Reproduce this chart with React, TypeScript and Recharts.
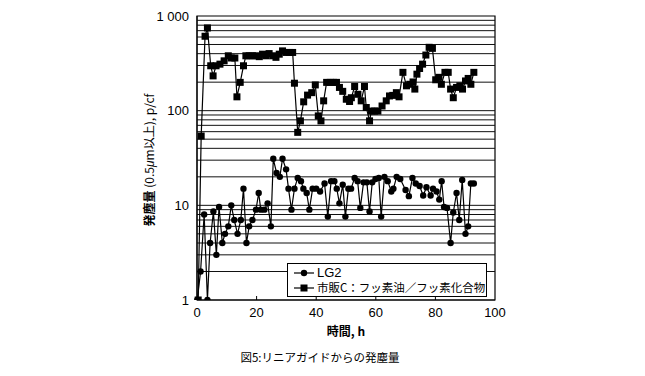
import React from 'react';
import { LineChart, Line, XAxis, YAxis, ReferenceLine, ReferenceArea } from 'recharts';

// LG2 (circles)
const lgHours = [0.1, 1.2, 2.4, 3.5, 4.4, 5.5, 6.5, 7.4, 8.5, 9.4, 10.5, 11.5, 12.5, 13.6, 14.7, 15.6, 16.6, 17.5, 18.6, 19.8, 20.7, 21.4, 22.6, 23.7, 24.8, 25.6, 26.7, 27.8, 28.7, 29.9, 30.7, 31.7, 32.7, 33.8, 34.9, 35.7, 36.8, 37.7, 38.8, 40, 41.3, 42.8, 43.9, 45, 46.1, 46.9, 47.8, 48.9, 49.8, 50.8, 51.7, 52.9, 53.9, 54.8, 55.9, 57, 57.9, 58.8, 59.9, 61, 61.8, 62.9, 64, 65.2, 65.9, 67, 68.2, 70, 71.1, 72.3, 73.4, 74.7, 75.9, 77, 78.4, 79.2, 80.4, 81.3, 82.1, 82.9, 83.9, 85.1, 86, 87.1, 88, 89, 90.1, 91, 91.9, 92.9];
const lgCounts = [1, 2, 8, 1, 4, 8.6, 3, 9.6, 4, 5, 6, 10, 7, 5, 7, 15, 4, 6, 7, 9, 13.5, 9, 9, 10.5, 6, 31, 22, 20, 31, 24, 15, 9, 15, 19.5, 18, 15, 13.5, 9, 15, 15, 14, 17, 7.6, 18, 18, 15, 10.5, 16.5, 7.6, 15, 15, 19.5, 18, 9.4, 17.5, 17.5, 8.6, 17.5, 19, 19.5, 7.6, 20, 18, 14, 15, 20, 19, 14.5, 12.5, 19.5, 17, 16, 12.7, 15.5, 12.7, 15, 14, 11.5, 18, 9.6, 9.4, 4, 8.4, 13.5, 7, 18.5, 5, 6, 17, 17];

// 市販C (squares)
const commHours = [0.4, 1.4, 2.7, 3.5, 4.6, 5.4, 6.4, 7.7, 9.1, 10.5, 11.5, 12.7, 13.4, 14.5, 15.6, 16.4, 17.5, 18.6, 19.8, 20.9, 22, 23.1, 24.2, 25.4, 26.5, 27.6, 28.7, 29.9, 31, 32.1, 32.7, 33.8, 34.7, 35.8, 37.1, 38.5, 39.7, 40.7, 41.6, 42.5, 43.5, 44.7, 45.8, 46.8, 47.8, 48.9, 50.1, 51.2, 51.8, 52.9, 54, 55.1, 56.2, 56.8, 57.9, 58.5, 59.6, 60.7, 62.1, 63.5, 64.6, 65.7, 66.9, 67.8, 69.1, 70.3, 71.4, 72.5, 73.1, 73.8, 74.7, 75.7, 76.8, 77.9, 79, 80.1, 81.2, 82, 83.2, 84.3, 85.1, 86, 87.1, 88.2, 89.1, 90.1, 91, 91.9, 92.9];
const commCounts = [1, 54, 611, 748, 298, 233, 298, 310, 336, 380, 360, 360, 140, 199, 298, 380, 380, 380, 380, 372, 395, 380, 401, 380, 366, 395, 428, 412, 412, 412, 195, 59, 78, 124, 146, 155, 187, 88, 78, 127, 199, 199, 199, 199, 176, 160, 132, 125, 137, 180, 149, 127, 180, 108, 78, 99, 99, 99, 112, 127, 143, 145, 155, 140, 254, 183, 190, 201, 169, 243, 279, 310, 387, 467, 455, 212, 225, 190, 254, 254, 169, 137, 176, 183, 169, 206, 219, 190, 254];

const xTicks = [0, 20, 40, 60, 80, 100];
const yTicks = [1, 10, 100, 1000];
const gridLevels = [2, 3, 4, 5, 6, 7, 8, 9, 10, 20, 30, 40, 50, 60, 70, 80, 90, 100, 200, 300, 400, 500, 600, 700, 800, 900];

const lgData = lgHours.map((h, i) => ({ h, v: lgCounts[i] }));
const commData = commHours.map((h, i) => ({ h, v: commCounts[i] }));

const sans = '"Liberation Sans", Arial, sans-serif';
const jp = '"Noto Sans CJK JP", sans-serif';

const squareDot = (p: any) => {
  if (p.cx == null || p.cy == null) return <g key={p.index} />;
  return <rect key={p.index} x={p.cx - 3.5} y={p.cy - 3.5} width={7} height={7} fill="#000" />;
};

// x tick label plus a short inward tick mark
const XTick = (p: any) => {
  const v = p.payload.value;
  const axisY = p.y - 8;
  return (
    <g>
      {v > 0 && v < 100 && <line x1={p.x} x2={p.x} y1={axisY} y2={axisY - 4} stroke="#000" />}
      <text x={p.x} y={p.y} dy="0.71em" textAnchor="middle" fill="#000" fontSize={13} fontFamily={sans}>{v}</text>
    </g>
  );
};

const LegendBox = () => (
  <div style={{ position: 'absolute', left: 287, top: 263, width: 200, height: 34, border: '1px solid #000', background: '#fff', boxSizing: 'border-box', color: '#000', whiteSpace: 'nowrap' }}>
    <div style={{ display: 'flex', alignItems: 'center', height: 15, marginTop: 1 }}>
      <svg width={28} height={14}>
        <line x1={6} y1={7} x2={26} y2={7} stroke="#000" strokeWidth={1.2} />
        <circle cx={16} cy={7} r={3.2} fill="#000" />
      </svg>
      <span style={{ fontFamily: sans, fontSize: 13, lineHeight: '15px', marginLeft: 1 }}>LG2</span>
    </div>
    <div style={{ display: 'flex', alignItems: 'center', height: 15 }}>
      <svg width={28} height={14}>
        <line x1={6} y1={7} x2={26} y2={7} stroke="#000" strokeWidth={1.2} />
        <rect x={12.5} y={3.5} width={7} height={7} fill="#000" />
      </svg>
      <span style={{ fontFamily: jp, fontSize: 11.5, lineHeight: '15px', marginLeft: 1 }}>市販C：フッ素油／フッ素化合物</span>
    </div>
  </div>
);

export default function App() {
  return (
    <div style={{ position: 'absolute', left: 0, top: 0, width: 645, height: 376, background: '#fff' }}>
      <LineChart width={645} height={376} margin={{ top: 16, right: 150, bottom: 46, left: 157 }}>
        <XAxis
          dataKey="h"
          type="number"
          domain={[0, 100]}
          ticks={xTicks}
          allowDuplicatedCategory={false}
          tickLine={false}
          axisLine={{ stroke: '#000' }}
          height={30}
          tick={<XTick />}
        />
        <YAxis
          type="number"
          scale="log"
          domain={[1, 1000]}
          ticks={yTicks}
          allowDataOverflow
          tickLine={false}
          axisLine={{ stroke: '#000' }}
          width={40}
          tickFormatter={(v: number) => (v === 1000 ? '1 000' : String(v))}
          tick={{ fill: '#000', fontSize: 13, fontFamily: sans }}
        />
        {gridLevels.map((g) => (
          <ReferenceLine key={g} y={g} stroke="#111" strokeWidth={1} ifOverflow="hidden" />
        ))}
        <ReferenceArea x1={0} x2={100} y1={1} y2={1000} fill="none" stroke="#000" strokeWidth={1.2} ifOverflow="visible" />
        <Line
          data={commData}
          dataKey="v"
          type="linear"
          stroke="#000"
          strokeWidth={1.2}
          dot={squareDot}
          isAnimationActive={false}
        />
        <Line
          data={lgData}
          dataKey="v"
          type="linear"
          stroke="#000"
          strokeWidth={1.2}
          dot={{ r: 3.2, fill: '#000', stroke: 'none' }}
          isAnimationActive={false}
        />
      </LineChart>
      <LegendBox />
      <div style={{ position: 'absolute', left: 149, top: 160, transform: 'translate(-50%, -50%) rotate(-90deg)', whiteSpace: 'nowrap', fontSize: 12, color: '#000' }}>
        <span style={{ fontFamily: jp, fontWeight: 700 }}>発塵量</span>
        <span style={{ fontFamily: jp }}> (0.5</span>
        <span style={{ fontFamily: sans, fontStyle: 'italic' }}>μ</span>
        <span style={{ fontFamily: jp }}>m以上), p/cf</span>
      </div>
      <div style={{ position: 'absolute', left: 346, top: 330, transform: 'translate(-50%, -50%)', whiteSpace: 'nowrap', fontSize: 12, fontWeight: 700, fontFamily: jp, color: '#000' }}>
        時間, h
      </div>
      <div style={{ position: 'absolute', left: 320, top: 357, transform: 'translate(-50%, -50%)', whiteSpace: 'nowrap', fontSize: 11.5, fontFamily: jp, color: '#000' }}>
        図5:リニアガイドからの発塵量
      </div>
    </div>
  );
}
